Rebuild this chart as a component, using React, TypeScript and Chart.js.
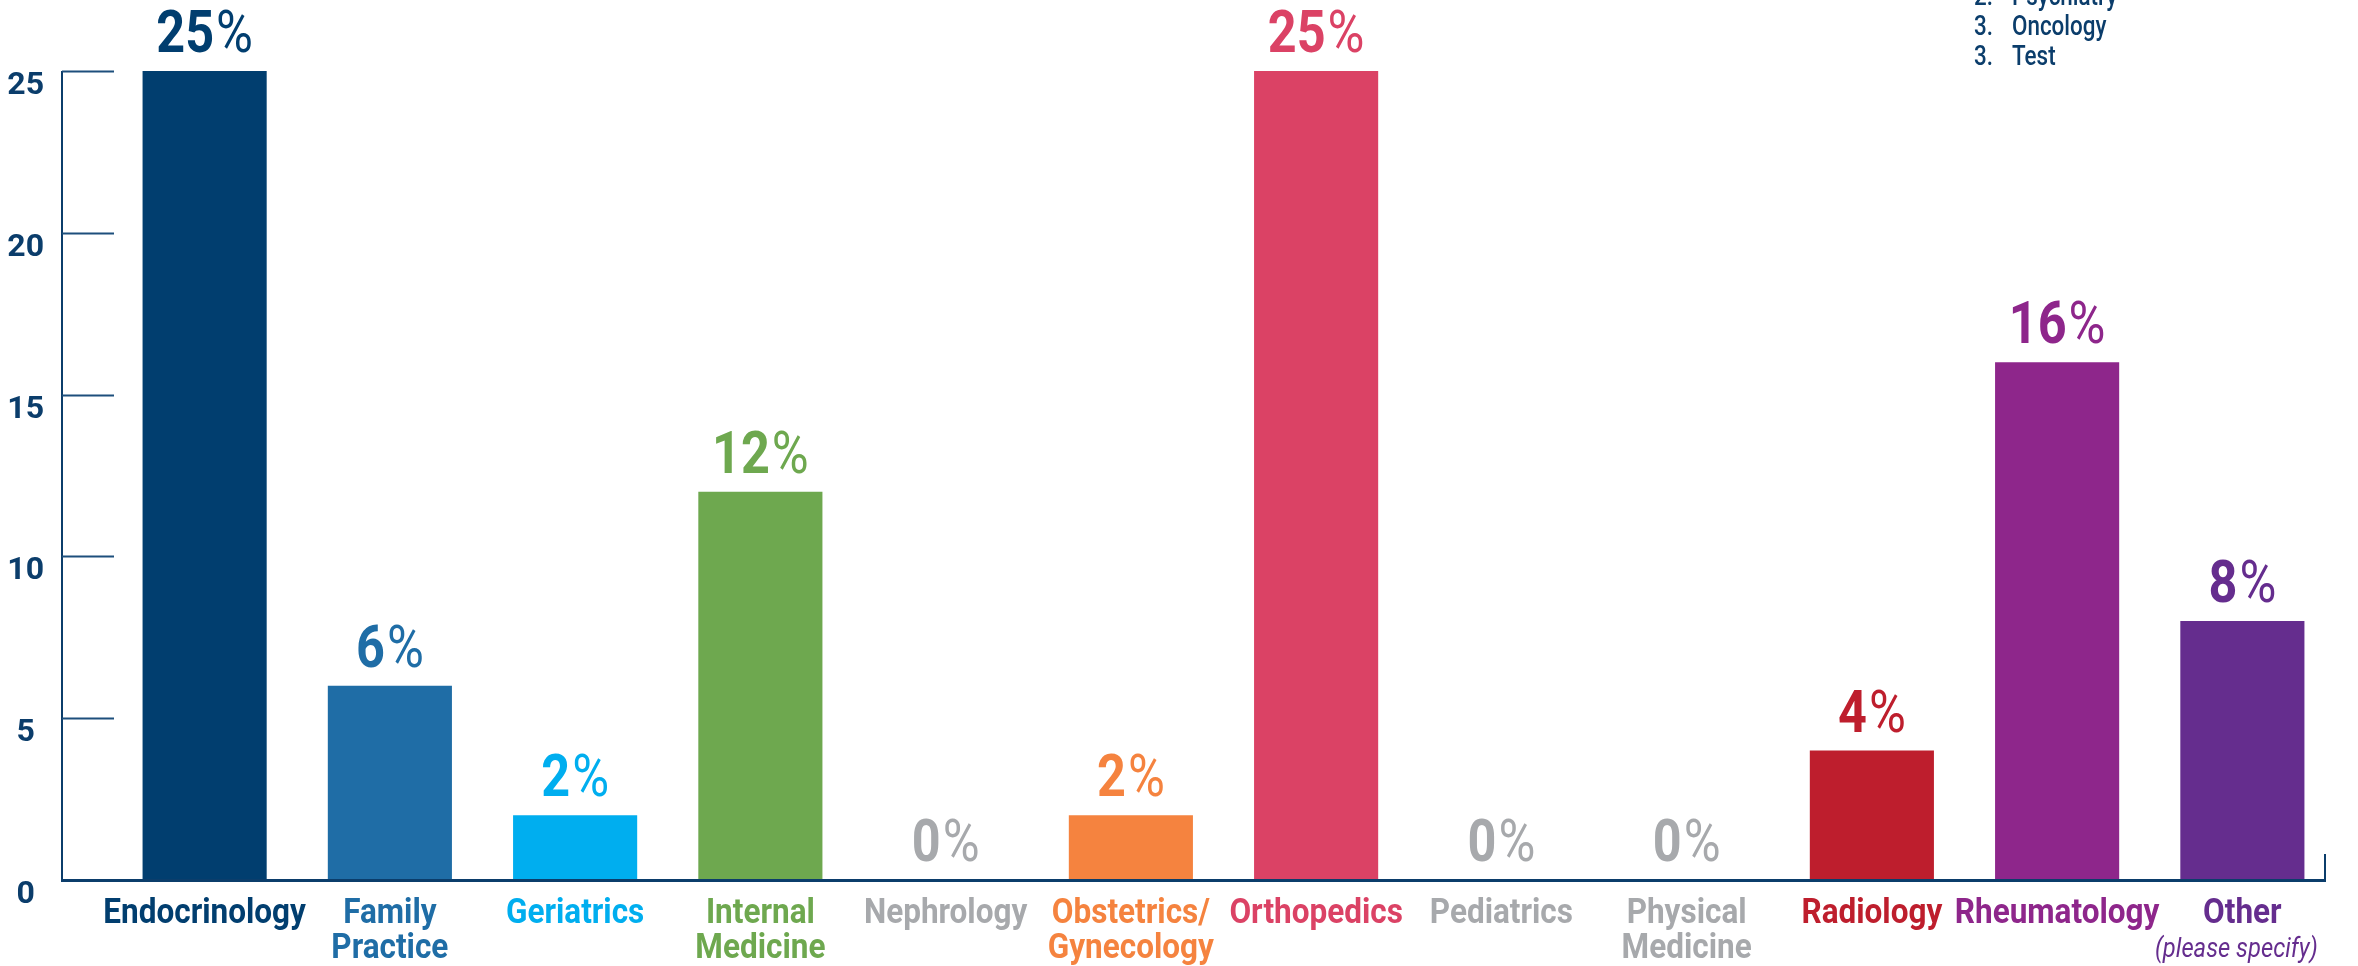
import React, { useEffect, useRef } from "react";
import { Chart, registerables } from "chart.js";

Chart.register(...registerables);

const FONT = "Roboto, 'Liberation Sans', sans-serif";

const categories = [
  ["Endocrinology"],
  ["Family", "Practice"],
  ["Geriatrics"],
  ["Internal", "Medicine"],
  ["Nephrology"],
  ["Obstetrics/", "Gynecology"],
  ["Orthopedics"],
  ["Pediatrics"],
  ["Physical", "Medicine"],
  ["Radiology"],
  ["Rheumatology"],
  ["Other", "(please specify)"],
];
const values = [25, 6, 2, 12, 0, 2, 25, 0, 0, 4, 16, 8];
const barColors = [
  "#013e6f", "#1f6da6", "#00aeef", "#6ea84f", "#a7a9ac", "#f5833f",
  "#db4265", "#a7a9ac", "#a7a9ac", "#be1e2d", "#8e268b", "#652d8e",
];
const yTicks = [0, 5, 10, 15, 20, 25];
const legendLines = [
  ["2.", "Psychiatry"],
  ["3.", "Oncology"],
  ["3.", "Test"],
];
const NAVY = "#0b3d6b";

function cond(ctx: any, text: string, x: number, y: number, sx: number, align: string) {
  ctx.save();
  ctx.translate(x, y);
  ctx.scale(sx, 1);
  ctx.textAlign = align;
  ctx.fillText(text, 0, 0);
  ctx.restore();
}

const overlay = {
  id: "overlay",
  afterDatasetsDraw(chart: any) {
    const { ctx, scales } = chart;
    const x = scales.x;
    const y = scales.y;
    const y0 = y.getPixelForValue(0);
    const yTop = y.getPixelForValue(25);
    ctx.save();

    // axis lines and inward ticks
    ctx.strokeStyle = NAVY;
    ctx.lineWidth = 2;
    ctx.beginPath();
    ctx.moveTo(62, yTop);
    ctx.lineTo(62, y0 + 1);
    ctx.stroke();
    yTicks.forEach((t) => {
      const py = Math.round(y.getPixelForValue(t)) + 0.5;
      ctx.strokeStyle = "#1d4f7c";
      ctx.lineWidth = 2;
      ctx.beginPath();
      ctx.moveTo(62, py);
      ctx.lineTo(114, py);
      ctx.stroke();
    });
    ctx.strokeStyle = NAVY;
    ctx.lineWidth = 3;
    ctx.beginPath();
    ctx.moveTo(61, y0 + 0.5);
    ctx.lineTo(2326, y0 + 0.5);
    ctx.stroke();
    ctx.lineWidth = 2;
    ctx.beginPath();
    ctx.moveTo(2325, y0 - 26);
    ctx.lineTo(2325, y0 + 1);
    ctx.stroke();

    ctx.textBaseline = "alphabetic";

    // value labels
    const VS = 0.84;
    values.forEach((v, i) => {
      const cx = x.getPixelForValue(i);
      const top = y.getPixelForValue(v);
      const base = top - 19;
      const num = String(v);
      ctx.font = `bold 60px ${FONT}`;
      const nw = ctx.measureText(num).width * VS;
      ctx.font = `60px ${FONT}`;
      const pw = ctx.measureText("%").width * VS;
      const start = cx - (nw + pw + 2) / 2;
      ctx.fillStyle = barColors[i];
      ctx.font = `bold 60px ${FONT}`;
      cond(ctx, num, start, base, VS, "left");
      ctx.font = `60px ${FONT}`;
      cond(ctx, "%", start + nw + 2, base, VS, "left");
    });

    // category labels
    categories.forEach((lines, i) => {
      const cx = x.getPixelForValue(i);
      ctx.fillStyle = barColors[i];
      lines.forEach((ln, j) => {
        if (ln.startsWith("(")) {
          ctx.font = `italic 27px ${FONT}`;
          cond(ctx, ln, cx - 6, 957, 0.88, "center");
        } else {
          ctx.font = `bold 35px ${FONT}`;
          cond(ctx, ln, cx, 923 + j * 35, 0.9, "center");
        }
      });
    });

    // top-right note
    ctx.fillStyle = NAVY;
    ctx.font = `500 28px ${FONT}`;
    legendLines.forEach((l, j) => {
      const by = 5 + j * 30;
      cond(ctx, l[0], 1974, by, 0.8, "left");
      cond(ctx, l[1], 2012, by, 0.8, "left");
    });

    ctx.restore();
  },
};

export default function App() {
  const ref = useRef<HTMLCanvasElement>(null);
  useEffect(() => {
    if (!ref.current) return;
    const chart = new Chart(ref.current, {
      type: "bar",
      data: {
        labels: categories.map((c) => c.join(" ")),
        datasets: [
          {
            data: values,
            backgroundColor: barColors,
            borderWidth: 0,
            categoryPercentage: 1,
            barPercentage: 0.67,
          },
        ],
      },
      options: {
        animation: false,
        responsive: false,
        maintainAspectRatio: false,
        layout: { padding: { top: 71, right: 23, left: 0, bottom: 0 } },
        plugins: { legend: { display: false }, tooltip: { enabled: false }, title: { display: false } },
        scales: {
          x: {
            grid: { display: false, drawTicks: false },
            border: { display: false },
            ticks: { display: false },
            afterFit: (s: any) => {
              s.height = 86;
              s.paddingLeft = 0;
              s.paddingRight = 0;
            },
          },
          y: {
            min: 0,
            max: 25,
            grid: { display: false, drawTicks: false },
            border: { display: false },
            afterFit: (s: any) => {
              s.width = 112;
              s.paddingTop = 0;
              s.paddingBottom = 0;
            },
            afterBuildTicks: (s: any) => {
              s.ticks = yTicks.map((v) => ({ value: v }));
            },
            ticks: {
              color: NAVY,
              font: { family: FONT, size: 32, weight: "bold" },
              crossAlign: "center",
              padding: 68,
              labelOffset: 15,
            },
          },
        },
      },
      plugins: [overlay],
    });
    return () => chart.destroy();
  }, []);
  return (
    <div style={{ position: "absolute", left: 0, top: 0, width: 2358, height: 966, background: "#fff" }}>
      <canvas ref={ref} width={2358} height={966} style={{ width: 2358, height: 966, display: "block" }} />
    </div>
  );
}
